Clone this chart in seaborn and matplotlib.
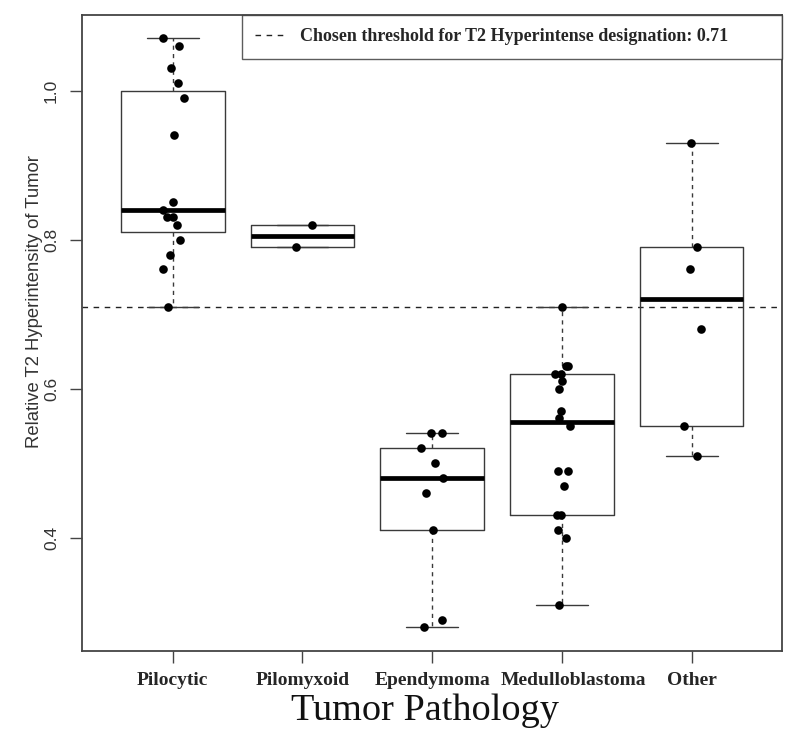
import numpy as np
import pandas as pd
import matplotlib
matplotlib.use("Agg")
import matplotlib.pyplot as plt
import matplotlib.transforms as mtransforms
import seaborn as sns
from matplotlib.font_manager import FontProperties

# ---- data ----
categories = ["Pilocytic", "Pilomyxoid", "Ependymoma", "Medulloblastoma", "Other"]
pilocytic = [1.07, 1.06, 1.03, 1.01, 0.99, 0.94, 0.85, 0.84, 0.83, 0.83, 0.82, 0.80, 0.78, 0.76, 0.71]
pilomyxoid = [0.82, 0.79]
ependymoma = [0.54, 0.54, 0.52, 0.50, 0.48, 0.46, 0.41, 0.29, 0.28]
medulloblastoma = [0.71, 0.63, 0.63, 0.62, 0.62, 0.61, 0.60, 0.57, 0.56, 0.55,
                   0.49, 0.49, 0.47, 0.43, 0.43, 0.41, 0.40, 0.31]
other = [0.93, 0.79, 0.76, 0.68, 0.55, 0.51]
threshold = 0.71
legend_label = "Chosen threshold for T2 Hyperintense designation: 0.71"
x_label = "Tumor Pathology"
y_label = "Relative T2 Hyperintensity of Tumor"
y_ticks = [0.4, 0.6, 0.8, 1.0]

groups = [pilocytic, pilomyxoid, ependymoma, medulloblastoma, other]


def fivenum(vals):
    """Tukey five-number summary (R's boxplot hinges)."""
    x = np.sort(np.asarray(vals, dtype=float))
    n = len(x)
    n4 = np.floor((n + 3) / 2) / 2
    d = np.array([1, n4, (n + 1) / 2, n + 1 - n4, n])
    return 0.5 * (x[np.floor(d).astype(int) - 1] + x[np.ceil(d).astype(int) - 1])


points = pd.DataFrame({
    "Pathology": np.repeat(categories, [len(g) for g in groups]),
    "value": np.concatenate(groups),
})
summary = pd.DataFrame({
    "Pathology": np.repeat(categories, 5),
    "value": np.concatenate([fivenum(g) for g in groups]),
})

sns.set_style("ticks")
serif = "Liberation Serif"
sans = "Liberation Sans"
plt.rcParams["font.family"] = [sans, "DejaVu Sans"]

fig = plt.figure(figsize=(8.0, 7.47), dpi=100)
ax = fig.add_axes([0.1025, 0.129, 0.8755, 0.851])

line_col = "#3a3a3a"
sns.boxplot(
    data=summary, x="Pathology", y="value", order=categories, ax=ax,
    whis=(0, 100), width=0.8, fill=False, color=line_col, linewidth=1.0,
    fliersize=0,
    medianprops=dict(color="black", linewidth=3.4, solid_capstyle="butt"),
    whiskerprops=dict(color=line_col, linestyle=(0, (3, 3)), linewidth=1.0),
    capprops=dict(color=line_col, linewidth=1.0),
    boxprops=dict(color=line_col, linewidth=1.0),
)

np.random.seed(7)
sns.stripplot(
    data=points, x="Pathology", y="value", order=categories, ax=ax,
    color="black", size=6.2, jitter=0.09, zorder=4, linewidth=0,
)

ax.axhline(threshold, color="#222222", linewidth=1.0, linestyle=(0, (4, 4)),
           label=legend_label, zorder=1)

# axis limits like R (4% extension)
allv = np.concatenate(groups)
lo, hi = allv.min(), allv.max()
r = hi - lo
ax.set_ylim(lo - 0.04 * r, hi + 0.04 * r)
n = len(categories)
ax.set_xlim(-0.5 - 0.04 * n, n - 0.5 + 0.04 * n)

ax.tick_params(axis="both", direction="out", length=8.5, width=1.0, color="#444444")
ax.tick_params(axis="y", pad=8)
ax.tick_params(axis="x", pad=7)

ax.set_yticks(y_ticks)
ax.set_yticklabels([f"{t:.1f}" for t in y_ticks], rotation=90, va="center",
                   fontsize=12.5, family=[sans], color="#333333")
ax.set_xticks(range(n))
xtl = ax.set_xticklabels(categories, fontsize=14, family=[serif], fontweight="bold",
                         color="#262626")
# the reference shows the long "Medulloblastoma" label nudged a bit to the right
shift = mtransforms.ScaledTranslation(8 / 72, 0, fig.dpi_scale_trans)
xtl[3].set_transform(xtl[3].get_transform() + shift)

ax.set_xlabel(x_label, fontsize=27.5, family=[serif], color="#111111")
ax.xaxis.set_label_coords(0.490, -0.068)
ax.set_ylabel(y_label, fontsize=13.3, family=[sans], color="#333333")
ax.yaxis.set_label_coords(-0.056, 0.5485)

for s in ax.spines.values():
    s.set_color("#444444")
    s.set_linewidth(1.3)
    s.set_visible(True)

leg = ax.legend(loc="upper right", bbox_to_anchor=(0.2283, 0.0, 0.7717, 1.0),
                mode="expand", borderaxespad=0, frameon=True, fancybox=False,
                prop=FontProperties(family=serif, size=13, weight="bold"),
                handlelength=1.7, borderpad=0.75, handletextpad=0.75)
leg.get_frame().set_edgecolor("#333333")
leg.get_frame().set_linewidth(1.0)

fig.savefig("out.png", dpi=100)
